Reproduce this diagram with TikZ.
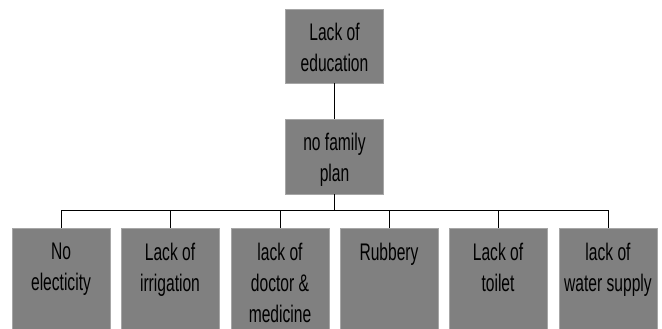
\documentclass[tikz,border=0pt]{standalone}
\usepackage{fontspec}
\setmainfont{Liberation Sans}[FakeStretch=0.65]
\begin{document}
\begin{tikzpicture}[x=1pt,y=-1pt,
  box/.style={draw=black!35, line width=0.6pt, fill=black!50, minimum width=98pt, inner sep=0pt, outer sep=0pt},
  txt/.style={align=center, font=\fontsize{24pt}{31pt}\selectfont, inner sep=0pt, anchor=north},
  conn/.style={draw=black, line width=1pt}]
\useasboundingbox (0,0) rectangle (662,329);
\clip (0,0) rectangle (662,329);
\fill[white] (0,0) rectangle (662,329);
\node[box, minimum height=74pt] (top) at (334.5,46) {};
\node[txt] at ([yshift=-14pt]top.north) {Lack of\\education};
\node[box, minimum height=75pt] (mid) at (334.5,156.5) {};
\node[txt] at ([yshift=-14pt]mid.north) {no family\\plan};
\coordinate (bus) at (334.5,210);
\foreach \i/\x/\t in {1/61/{No\\electicity},2/170/{Lack of\\irrigation},3/280/{lack of\\doctor \&\\medicine},4/389/{Rubbery},5/498/{Lack of\\toilet},6/608/{lack of\\water supply}}{
  \node[box, minimum height=120pt, anchor=north] (b\i) at (\x,228) {};
  \node[txt] at ([yshift=-15pt]b\i.north) {\t};
  \draw[conn] (bus) -| (b\i.north);
}
\draw[conn] (top.south) -- (mid.north);
\draw[conn] (mid.south) -- (bus);
\end{tikzpicture}
\end{document}
